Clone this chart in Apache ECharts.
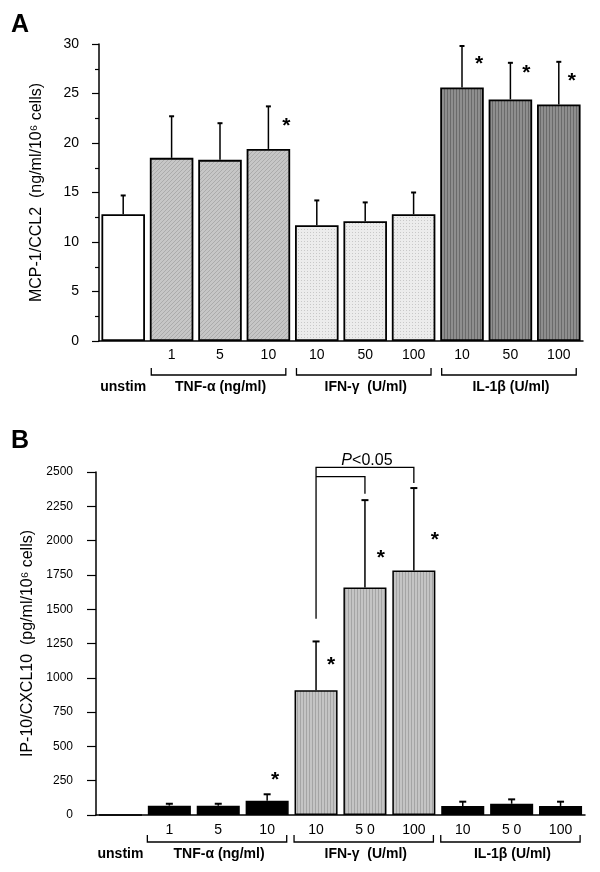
<!DOCTYPE html>
<html>
<head>
<meta charset="utf-8">
<script src="https://cdn.jsdelivr.net/npm/echarts@6/dist/echarts.min.js"></script>
<style>
html,body{margin:0;padding:0;background:#fff;}
#chart{width:600px;height:872px;}
</style>
</head>
<body>
<div id="chart"></div>
<script>
// ---------- DATA ----------
const categoriesA = ['', '1', '5', '10', '10', '50', '100', '10', '50', '100'];
const meanA = [12.8, 18.5, 18.3, 19.4, 11.7, 12.1, 12.8, 25.6, 24.4, 23.9];
const errTopA = [14.7, 22.7, 22.0, 23.7, 14.2, 14.0, 15.0, 29.8, 28.1, 28.2];
const starA = [null, null, null, 22.1, null, null, null, 28.4, 27.5, 26.6];

const categoriesB = ['', '1', '5', '10', '10', '5 0', '100', '10', '5 0', '100'];
const meanB = [0, 68, 68, 103, 910, 1658, 1782, 66, 82, 66];
const errTopB = [0, 82, 82, 151, 1265, 2295, 2383, 97, 114, 97];
const starB = [null, null, null, 284, 1118, 1901, 2030, null, null, null];

const groupNames = ['TNF-\u03b1 (ng/ml)', 'IFN-\u03b3  (U/ml)', 'IL-1\u03b2 (U/ml)'];
const groupFirst = [1, 4, 7];
const groupLast = [3, 6, 9];
const unstimLabel = 'unstim';
const yTicksA = [0, 30, 5];
const yTicksB = [0, 2500, 250];
// significance bracket in B: from category 4 to 5 and 4 to 6
const pText = 'P<0.05';
const pOuter = [4, 6, 2533, 1430, 2419];   // from, to, top value, left foot, right foot
const pInner = [4, 5, 2467, 1430, 2341];
const pTextValue = 2580;

// ---------- patterns ----------
function makePattern(w, h, draw) {
  const c = document.createElement('canvas');
  c.width = w; c.height = h;
  const g = c.getContext('2d');
  draw(g, w, h);
  return { image: c, repeat: 'repeat' };
}
const patTNF_A = makePattern(4, 4, (g) => {
  g.fillStyle = '#c6c6c6'; g.fillRect(0, 0, 4, 4);
  g.fillStyle = '#ababab';
  for (let i = 0; i < 4; i++) g.fillRect(i, 3 - i, 1, 1);
});
const patIFN_A = makePattern(3, 3, (g) => {
  g.fillStyle = '#ececec'; g.fillRect(0, 0, 3, 3);
  g.fillStyle = '#c8c8c8'; g.fillRect(1, 1, 1, 1);
});
const patIL_A = makePattern(3, 2, (g) => {
  g.fillStyle = '#8e8e8e'; g.fillRect(0, 0, 3, 2);
  g.fillStyle = '#6a6a6a'; g.fillRect(0, 0, 1, 2);
});
const patIFN_B = makePattern(3, 2, (g) => {
  g.fillStyle = '#c4c4c4'; g.fillRect(0, 0, 3, 2);
  g.fillStyle = '#a4a4a4'; g.fillRect(0, 0, 1, 2);
});

function groupOf(i) {
  for (let k = 0; k < groupFirst.length; k++) if (i >= groupFirst[k] && i <= groupLast[k]) return k;
  return -1;
}
const fillsA = ['#ffffff', patTNF_A, patIFN_A, patIL_A];
const fillsB = ['#000000', '#000000', patIFN_B, '#000000'];

const FONT = 'Liberation Sans, Arial, sans-serif';

function errSeries(gridIdx, means, tops, capHalf) {
  return {
    type: 'custom', xAxisIndex: gridIdx, yAxisIndex: gridIdx, z: 5, clip: false,
    data: means.map((m, i) => [i, m, tops[i]]),
    encode: { x: 0, y: [1, 2] },
    renderItem: function (params, api) {
      if (api.value(2) <= api.value(1)) return null;
      const p0 = api.coord([api.value(0), api.value(1)]);
      const p1 = api.coord([api.value(0), api.value(2)]);
      return {
        type: 'group', children: [
          { type: 'line', shape: { x1: p0[0], y1: p0[1], x2: p1[0], y2: p1[1] }, style: { stroke: '#000', lineWidth: 1.5 } },
          { type: 'line', shape: { x1: p1[0] - capHalf, y1: p1[1], x2: p1[0] + capHalf, y2: p1[1] }, style: { stroke: '#000', lineWidth: 2 } }
        ]
      };
    }
  };
}

function starSeries(gridIdx, stars, dx) {
  return {
    type: 'custom', xAxisIndex: gridIdx, yAxisIndex: gridIdx, z: 6, clip: false,
    data: stars.map((s, i) => [i, s]).filter(d => d[1] !== null),
    encode: { x: 0, y: 1 },
    renderItem: function (params, api) {
      const p = api.coord([api.value(0), api.value(1)]);
      const off = dx[params.dataIndex] || 16;
      return {
        type: 'text', x: p[0] + off, y: p[1] + 4,
        style: { text: '*', fontSize: 21, fontWeight: 'bold', fontFamily: FONT, fill: '#000', align: 'center', verticalAlign: 'middle' }
      };
    }
  };
}

function bracketSeries(gridIdx, barY, labelY, fontSize, leftFrac, rightFrac) {
  const items = groupFirst.map((f, k) => [f, groupLast[k], k]);
  items.push([0, 0, -1]);
  return {
    type: 'custom', xAxisIndex: gridIdx, yAxisIndex: gridIdx, z: 6, clip: false,
    data: items,
    encode: { x: [0, 1] },
    renderItem: function (params, api) {
      const band = api.size([1, 0])[0];
      const a = api.coord([api.value(0), 0]);
      const b = api.coord([api.value(1), 0]);
      const k = api.value(2);
      const base = a[1];
      if (k < 0) {
        return { type: 'text', x: a[0], y: base + labelY, style: { text: unstimLabel, fontSize: fontSize, fontWeight: 'bold', fontFamily: FONT, fill: '#000', align: 'center', verticalAlign: 'middle' } };
      }
      const x1 = a[0] - band * leftFrac, x2 = b[0] + band * rightFrac;
      const y = base + barY;
      return {
        type: 'group', children: [
          { type: 'polyline', shape: { points: [[x1, y - 7], [x1, y], [x2, y], [x2, y - 7]] }, style: { stroke: '#000', lineWidth: 1.3, fill: null } },
          { type: 'text', x: (x1 + x2) / 2 + 2, y: base + labelY, style: { text: groupNames[k], fontSize: fontSize, fontWeight: 'bold', fontFamily: FONT, fill: '#000', align: 'center', verticalAlign: 'middle' } }
        ]
      };
    }
  };
}

function pSeries() {
  return {
    type: 'custom', xAxisIndex: 1, yAxisIndex: 1, z: 6, clip: false,
    data: [[pOuter[0], pOuter[1], pInner[1]]],
    encode: { x: [0, 1, 2] },
    renderItem: function (params, api) {
      const L = api.coord([pOuter[0], pOuter[3]]);
      const topO = api.coord([pOuter[0], pOuter[2]])[1];
      const topI = api.coord([pInner[0], pInner[2]])[1];
      const RO = api.coord([pOuter[1], pOuter[4]]);
      const RI = api.coord([pInner[1], pInner[4]]);
      const T = api.coord([(pOuter[0] + pOuter[1]) / 2, pTextValue]);
      return {
        type: 'group', children: [
          { type: 'polyline', shape: { points: [[L[0], L[1]], [L[0], topO], [RO[0], topO], [RO[0], RO[1]]] }, style: { stroke: '#000', lineWidth: 1.3, fill: null } },
          { type: 'polyline', shape: { points: [[L[0], topI], [RI[0], topI], [RI[0], RI[1]]] }, style: { stroke: '#000', lineWidth: 1.3, fill: null } },
          { type: 'text', x: T[0] + 2, y: T[1], style: { text: '{i|P}{n|<0.05}', fontSize: 16, fontFamily: FONT, fill: '#000', align: 'center', verticalAlign: 'middle',
            rich: { i: { fontStyle: 'italic', fontSize: 16, fontFamily: FONT }, n: { fontSize: 16, fontFamily: FONT } } } }
        ]
      };
    }
  };
}

const axisLineStyle = { color: '#000', width: 1.5 };

const option = {
  animation: false,
  backgroundColor: '#fff',
  textStyle: { fontFamily: FONT },
  grid: [
    { left: 99, top: 44, width: 484, height: 297 },
    { left: 96, top: 472, width: 489, height: 343 }
  ],
  xAxis: [
    { type: 'category', gridIndex: 0, data: categoriesA,
      axisLine: { lineStyle: axisLineStyle }, axisTick: { alignWithLabel: true, length: 4, interval: 0, lineStyle: { color: '#000' } },
      axisLabel: { interval: 0, fontSize: 14, color: '#000', margin: 7, fontFamily: FONT } },
    { type: 'category', gridIndex: 1, data: categoriesB,
      axisLine: { lineStyle: axisLineStyle }, axisTick: { alignWithLabel: true, length: 4, interval: 0, lineStyle: { color: '#000' } },
      axisLabel: { interval: 0, fontSize: 14, color: '#000', margin: 8, fontFamily: FONT } }
  ],
  yAxis: [
    { type: 'value', gridIndex: 0, min: yTicksA[0], max: yTicksA[1], interval: yTicksA[2],
      axisLine: { show: true, lineStyle: axisLineStyle }, axisTick: { show: true, length: 7, lineStyle: { color: '#000', width: 1.2 } },
      minorTick: { show: true, splitNumber: 2, length: 4, lineStyle: { color: '#000', width: 1.2 } },
      splitLine: { show: false },
      axisLabel: { fontSize: 14, color: '#000', margin: 20, fontFamily: FONT, formatter: (v) => String(v) },
      name: 'MCP-1/CCL2  (ng/ml/10\u2076 cells)', nameLocation: 'middle', nameGap: 54, nameRotate: 90,
      nameTextStyle: { fontSize: 16, color: '#000', fontFamily: FONT } },
    { type: 'value', gridIndex: 1, min: yTicksB[0], max: yTicksB[1], interval: yTicksB[2],
      axisLine: { show: true, lineStyle: axisLineStyle }, axisTick: { show: true, length: 9, lineStyle: { color: '#000', width: 1.2 } },
      splitLine: { show: false },
      axisLabel: { fontSize: 12, color: '#000', margin: 23, fontFamily: FONT, formatter: (v) => String(v) },
      name: 'IP-10/CXCL10  (pg/ml/10\u2076 cells)', nameLocation: 'middle', nameGap: 57, nameRotate: 90,
      nameTextStyle: { fontSize: 16, color: '#000', fontFamily: FONT } }
  ],
  graphic: [
    { type: 'text', left: 11, top: 13, style: { text: 'A', fontSize: 25, fontWeight: 'bold', fontFamily: FONT, fill: '#000' } },
    { type: 'text', left: 11, top: 429, style: { text: 'B', fontSize: 25, fontWeight: 'bold', fontFamily: FONT, fill: '#000' } }
  ],
  series: [
    { type: 'bar', xAxisIndex: 0, yAxisIndex: 0, barCategoryGap: '10%', z: 2,
      data: meanA.map((v, i) => ({ value: v, itemStyle: { color: fillsA[groupOf(i) + 1] } })),
      itemStyle: { borderColor: '#000', borderWidth: 1.8 } },
    { type: 'bar', xAxisIndex: 1, yAxisIndex: 1, barCategoryGap: '12%', z: 2,
      data: meanB.map((v, i) => ({ value: v, itemStyle: { color: fillsB[groupOf(i) + 1] } })),
      itemStyle: { borderColor: '#000', borderWidth: 1.5 } },
    errSeries(0, meanA, errTopA, 2.5),
    errSeries(1, meanB, errTopB, 3.5),
    starSeries(0, starA, [18, 17, 16, 13]),
    starSeries(1, starB, [8, 15, 16, 21]),
    bracketSeries(0, 34, 46, 14, 0.42, 0.36),
    bracketSeries(1, 27, 39, 14, 0.45, 0.4),
    pSeries()
  ]
};

const chart = echarts.init(document.getElementById('chart'), null, { renderer: 'canvas' });
chart.setOption(option);
</script>
</body>
</html>
